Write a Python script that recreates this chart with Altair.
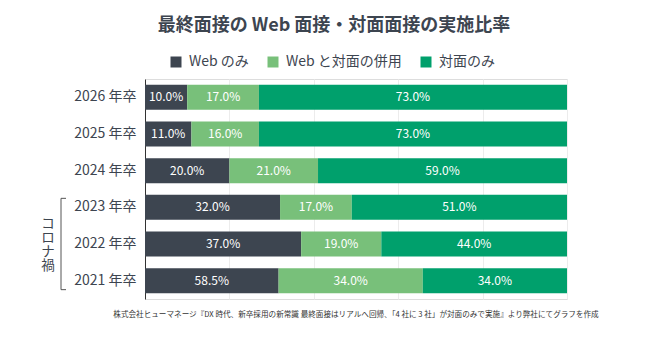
import altair as alt
import pandas as pd

years = ["2026 年卒", "2025 年卒", "2024 年卒", "2023 年卒", "2022 年卒", "2021 年卒"]
series = ["Web のみ", "Web と対面の併用", "対面のみ"]
colors = ["#3d4550", "#78c07a", "#00a06c"]

# bar lengths as drawn in the reference
web_only = [10, 11, 20, 32, 37, 31.5]
hybrid = [17, 16, 21, 17, 19, 34]
in_person = [73, 73, 59, 51, 44, 34]
# values printed on the bars
web_only_labels = [10.0, 11.0, 20.0, 32.0, 37.0, 58.5]
hybrid_labels = [17.0, 16.0, 21.0, 17.0, 19.0, 34.0]
in_person_labels = [73.0, 73.0, 59.0, 51.0, 44.0, 34.0]

title_text = "最終面接の Web 面接・対面面接の実施比率"
source_text = "株式会社ヒューマネージ『DX 時代、新卒採用の新常識 最終面接はリアルへ回帰、「4 社に 3 社」が対面のみで実施』より弊社にてグラフを作成"
bracket_text = ["コ", "ロ", "ナ", "禍"]

rows = []
for i, y in enumerate(years):
    vals = [web_only[i], hybrid[i], in_person[i]]
    labs = [web_only_labels[i], hybrid_labels[i], in_person_labels[i]]
    total = sum(vals)
    start = 0.0
    for k, s in enumerate(series):
        w = vals[k] / total * 100
        rows.append({"year": y, "series": s, "order": k, "start": start,
                     "end": start + w, "mid": start + w / 2,
                     "label": f"{labs[k]:.1f}%"})
        start += w
df = pd.DataFrame(rows)

FONT = "Noto Sans CJK JP"
TXT = "#3d4550"
W, H = 422, 220

yscale = alt.Scale(domain=years, paddingInner=0.32, paddingOuter=0.16)

bars = alt.Chart(df).mark_bar().encode(
    y=alt.Y("year:N", sort=years, scale=yscale,
            axis=alt.Axis(title=None, ticks=False, domain=True, domainColor="#333333",
                          labelFontSize=14, labelColor=TXT, labelFont=FONT,
                          labelPadding=9, grid=False)),
    x=alt.X("start:Q", scale=alt.Scale(domain=[0, 100], nice=False),
            axis=alt.Axis(title=None, labels=False, ticks=False, domain=False,
                          values=[0, 20, 40, 60, 80, 100], grid=True,
                          gridColor="#ececec")),
    x2="end:Q",
    color=alt.Color("series:N", sort=series,
                    scale=alt.Scale(domain=series, range=colors),
                    legend=alt.Legend(title=None, orient="none", direction="horizontal",
                                      legendX=24, legendY=-24, symbolType="square",
                                      symbolSize=121, symbolStrokeWidth=0,
                                      labelFontSize=14, labelColor=TXT, labelFont=FONT,
                                      columnPadding=17, labelOffset=6, padding=0)),
    order="order:Q",
)

labels = alt.Chart(df).mark_text(color="white", fontSize=12, font=FONT,
                                 align="center", baseline="middle").encode(
    y=alt.Y("year:N", sort=years, scale=yscale),
    x=alt.X("mid:Q"),
    text="label:N",
)

bracket_df = pd.DataFrame({"top": [years[3]], "bottom": [years[5]]})
bracket_v = alt.Chart(bracket_df).mark_rule(color="#555555", strokeWidth=1,
                                            yOffset=-9, y2Offset=9).encode(
    y=alt.Y("top:N", sort=years, scale=yscale),
    y2="bottom:N",
    x=alt.value(-84),
)
bracket_top = alt.Chart(bracket_df).mark_rule(color="#555555", strokeWidth=1,
                                              yOffset=-9).encode(
    y=alt.Y("top:N", sort=years, scale=yscale),
    x=alt.value(-84), x2=alt.value(-79),
)
bracket_bot = alt.Chart(bracket_df).mark_rule(color="#555555", strokeWidth=1,
                                              yOffset=9).encode(
    y=alt.Y("bottom:N", sort=years, scale=yscale),
    x=alt.value(-84), x2=alt.value(-79),
)
bracket_lbl = alt.Chart(pd.DataFrame({"anchor": [years[3]]})).mark_text(
    fontSize=13.5, font=FONT, color=TXT, align="center", baseline="top",
    lineHeight=14, yOffset=10).encode(
    y=alt.Y("anchor:N", sort=years, scale=yscale),
    x=alt.value(-97),
    text=alt.value(bracket_text),
)

source = alt.Chart(pd.DataFrame({"t": [source_text]})).mark_text(
    fontSize=7.6, font=FONT, color="#333333", align="center", baseline="middle").encode(
    x=alt.value(W / 2), y=alt.value(H + 16), text="t:N")

chart = alt.layer(bars, labels, bracket_v, bracket_top, bracket_bot, bracket_lbl, source).properties(
    width=W, height=H,
    title=alt.TitleParams(title_text, fontSize=18, fontWeight="bold", color=TXT, font=FONT,
                          anchor="middle", offset=20, dx=-22),
    autosize=alt.AutoSizeParams(type="none"),
    padding={"left": 145, "top": 79, "right": 103, "bottom": 41},
).configure_view(stroke=None).configure(background="white")

chart.save("out.html", embed_options={"renderer": "svg", "actions": False})
